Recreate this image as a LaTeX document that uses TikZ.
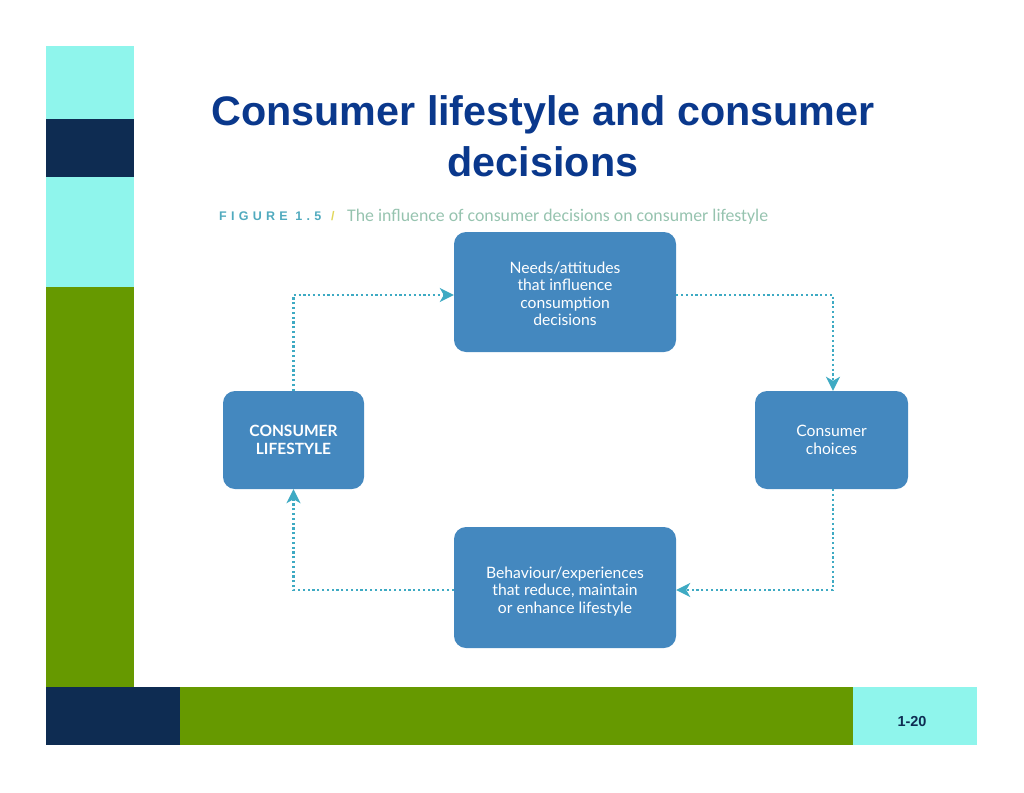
\documentclass[tikz,border=0pt]{standalone}
\usepackage{fontspec}
\usepackage{xcolor}
\setmainfont{Liberation Sans}
\newfontfamily\boxfont{Lato}
\newfontfamily\captionfont{Carlito}
\newfontfamily\figfont[LetterSpace=34]{Liberation Sans}
\usetikzlibrary{positioning, arrows.meta}
\definecolor{barcyan}{RGB}{143,245,236}
\definecolor{barnavy}{RGB}{14,44,82}
\definecolor{bargreen}{RGB}{102,153,0}
\definecolor{titleblue}{RGB}{10,56,140}
\definecolor{boxblue}{RGB}{68,136,191}
\definecolor{loopteal}{RGB}{62,170,195}
\definecolor{figteal}{RGB}{80,170,190}
\definecolor{captiongreen}{RGB}{150,195,175}
\definecolor{slashyellow}{RGB}{225,215,90}
\newcommand{\boxdrop}[1]{\rule{0pt}{#1}}
\tikzset{
    stepnode/.style={
        rounded corners=12pt, fill=boxblue, text=white, align=center,
        font=\boxfont\fontsize{15.7}{17.5}\selectfont, inner sep=0pt
    },
    looparrow/.style={
        loopteal, line width=2.2pt,
        dash pattern=on 2.2pt off 2.6pt,
        -{Stealth[length=14pt, width=14pt, inset=4pt]}
    }
}
\begin{document}
\begin{tikzpicture}[x=1pt, y=-1pt]
    \useasboundingbox (0,0) rectangle (1024,792);
    % --- BARS ---
    \fill[barcyan] (46,46) rectangle (134,119);
    \fill[barnavy] (46,119) rectangle (134,177);
    \fill[barcyan] (46,177) rectangle (134,287);
    \fill[bargreen] (46,287) rectangle (134,687);
    \fill[barnavy] (46,687) rectangle (180,745);
    \fill[bargreen] (180,687) rectangle (853,745);
    \fill[barcyan] (853,687) rectangle (977,745);
    \node[font=\bfseries\fontsize{14.5}{14.5}\selectfont, text=barnavy] (pagenum) at (912,721) {1-20};

    % --- TITLE ---
    \node[align=center, text=titleblue, font=\bfseries\fontsize{41.3}{51}\selectfont] (title) at (543,136)
        {Consumer lifestyle and consumer\\decisions};
    \node[anchor=base west, text=figteal, font=\figfont\bfseries\fontsize{12.5}{12.5}\selectfont, inner sep=0pt] (figlabel) at (219,220.5) {FIGURE 1.5};
    \node[anchor=base west, text=slashyellow, font=\bfseries\fontsize{12.5}{12.5}\selectfont, inner sep=0pt] (figslash) at (331,220.5) {/};
    \node[anchor=base west, text=captiongreen, font=\captionfont\fontsize{17.8}{20}\selectfont, inner sep=0pt] (figtext) at (347,221)
        {The influence of consumer decisions on consumer lifestyle};

    % --- BOXES ---
    \node[stepnode, minimum width=222pt, minimum height=120pt] (needs) at (565,292)
        {\boxdrop{15pt}Needs/attitudes\\that influence\\consumption\\decisions};
    \node[stepnode, minimum width=141pt, minimum height=98pt, font=\boxfont\bfseries\fontsize{15.5}{17.5}\selectfont] (lifestyle) at (293.5,440)
        {CONSUMER\\LIFESTYLE};
    \node[stepnode, minimum width=153pt, minimum height=98pt] (choices) at (831.5,440)
        {Consumer\\choices};
    \node[stepnode, minimum width=222pt, minimum height=121pt] (behaviour) at (565,587.5)
        {\boxdrop{19pt}Behaviour/experiences\\that reduce, maintain\\or enhance lifestyle};

    % --- ARROWS ---
    \draw[looparrow] (lifestyle.north) |- ([yshift=-3pt]needs.west);
    \draw[looparrow] ([yshift=-3pt]needs.east) -| ([xshift=1.5pt]choices.north);
    \draw[looparrow] ([xshift=1.5pt]choices.south) |- ([yshift=-2.5pt]behaviour.east);
    \draw[looparrow] ([yshift=-2.5pt]behaviour.west) -| (lifestyle.south);
\end{tikzpicture}
\end{document}
